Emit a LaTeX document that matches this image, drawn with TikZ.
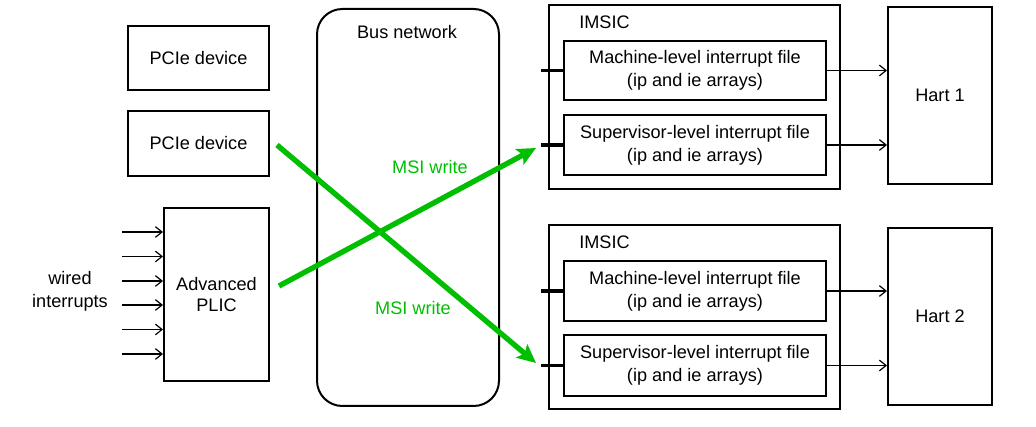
\documentclass[tikz,border=0pt]{standalone}
\usepackage{fontspec}
\setmainfont{Liberation Sans}
\usetikzlibrary{arrows.meta}
\definecolor{msigreen}{RGB}{0,190,0}
\begin{document}
\begin{tikzpicture}[x=0.75pt,y=-0.75pt,
  box/.style={draw,line width=1.5pt,inner sep=0pt,font=\fontsize{13.6}{17.5}\selectfont,align=center},
  lbl/.style={inner sep=0pt,font=\fontsize{13.6}{17}\selectfont,align=center},
  thin/.style={line width=0.9pt,-{Straight Barb[length=5pt,width=8pt]}},
  stub/.style={line width=2.5pt},
  msi/.style={draw=msigreen,line width=4pt,-{Stealth[length=14pt,width=13pt,inset=3pt]}},
  msitext/.style={lbl,text=msigreen}]
\useasboundingbox (0,0) rectangle (1036,427);
% left boxes
\node[box,minimum width=105.75pt,minimum height=48pt] (pcie1) at (198.5,58) {PCIe device};
\node[box,minimum width=105.75pt,minimum height=48.75pt] (pcie2) at (198.5,143.5) {PCIe device};
\node[box,font=\fontsize{13.6}{16}\selectfont,minimum width=78.75pt,minimum height=129.75pt] (plic) at (216.5,294.5) {Advanced\\PLIC};
\node[lbl] (wired) at (70,291.5) {wired\\interrupts};
\foreach \y [count=\i] in {232,256.5,281,305,329.5,354} {
  \coordinate (w\i) at (122,\y);
  \draw[thin] (w\i) -- (w\i -| plic.west);
}
% bus
\node[box,rounded corners=19pt,minimum width=136.5pt,minimum height=297.75pt] (bus) at (408,207.5) {};
\node[lbl] (busl) at (407,32) {Bus network};
% IMSIC 1
\node[box,minimum width=218.25pt,minimum height=138pt] (im1) at (694.5,97) {};
\node[lbl,anchor=west] (im1l) at (579,22) {IMSIC};
\node[box,minimum width=196.5pt,minimum height=44.25pt] (m1) at (695,70.5) {Machine-level interrupt file\\(ip and ie arrays)};
\node[box,minimum width=196.5pt,minimum height=45pt] (s1) at (695,145) {Supervisor-level interrupt file\\(ip and ie arrays)};
\node[box,minimum width=78pt,minimum height=132.75pt] (h1) at (940,95.5) {Hart 1};
% IMSIC 2
\node[box,minimum width=218.25pt,minimum height=138pt] (im2) at (694.5,317) {};
\node[lbl,anchor=west] (im2l) at (579,242) {IMSIC};
\node[box,minimum width=196.5pt,minimum height=45pt] (m2) at (695,291) {Machine-level interrupt file\\(ip and ie arrays)};
\node[box,minimum width=196.5pt,minimum height=45.75pt] (s2) at (695,365.5) {Supervisor-level interrupt file\\(ip and ie arrays)};
\node[box,minimum width=78pt,minimum height=132.75pt] (h2) at (940,316.5) {Hart 2};
% stubs
\foreach \n in {m1,s1,m2,s2} {
  \coordinate (st\n) at ([xshift=-16.5pt]\n.west);
  \draw[stub] (st\n) -- (\n.west);
  \draw[thin] (\n.east) -- (\n.east -| h1.west);
}
% MSI writes
\coordinate (g1s) at (277,145);
\coordinate (g1e) at (536,363);
\coordinate (g2s) at (279,286);
\coordinate (g2e) at (536,148);
\draw[msi] (g1s) -- (g1e);
\draw[msi] (g2s) -- (g2e);
\node[msitext] (msi1) at (430,167) {MSI write};
\node[msitext] (msi2) at (413,308) {MSI write};
\end{tikzpicture}
\end{document}
